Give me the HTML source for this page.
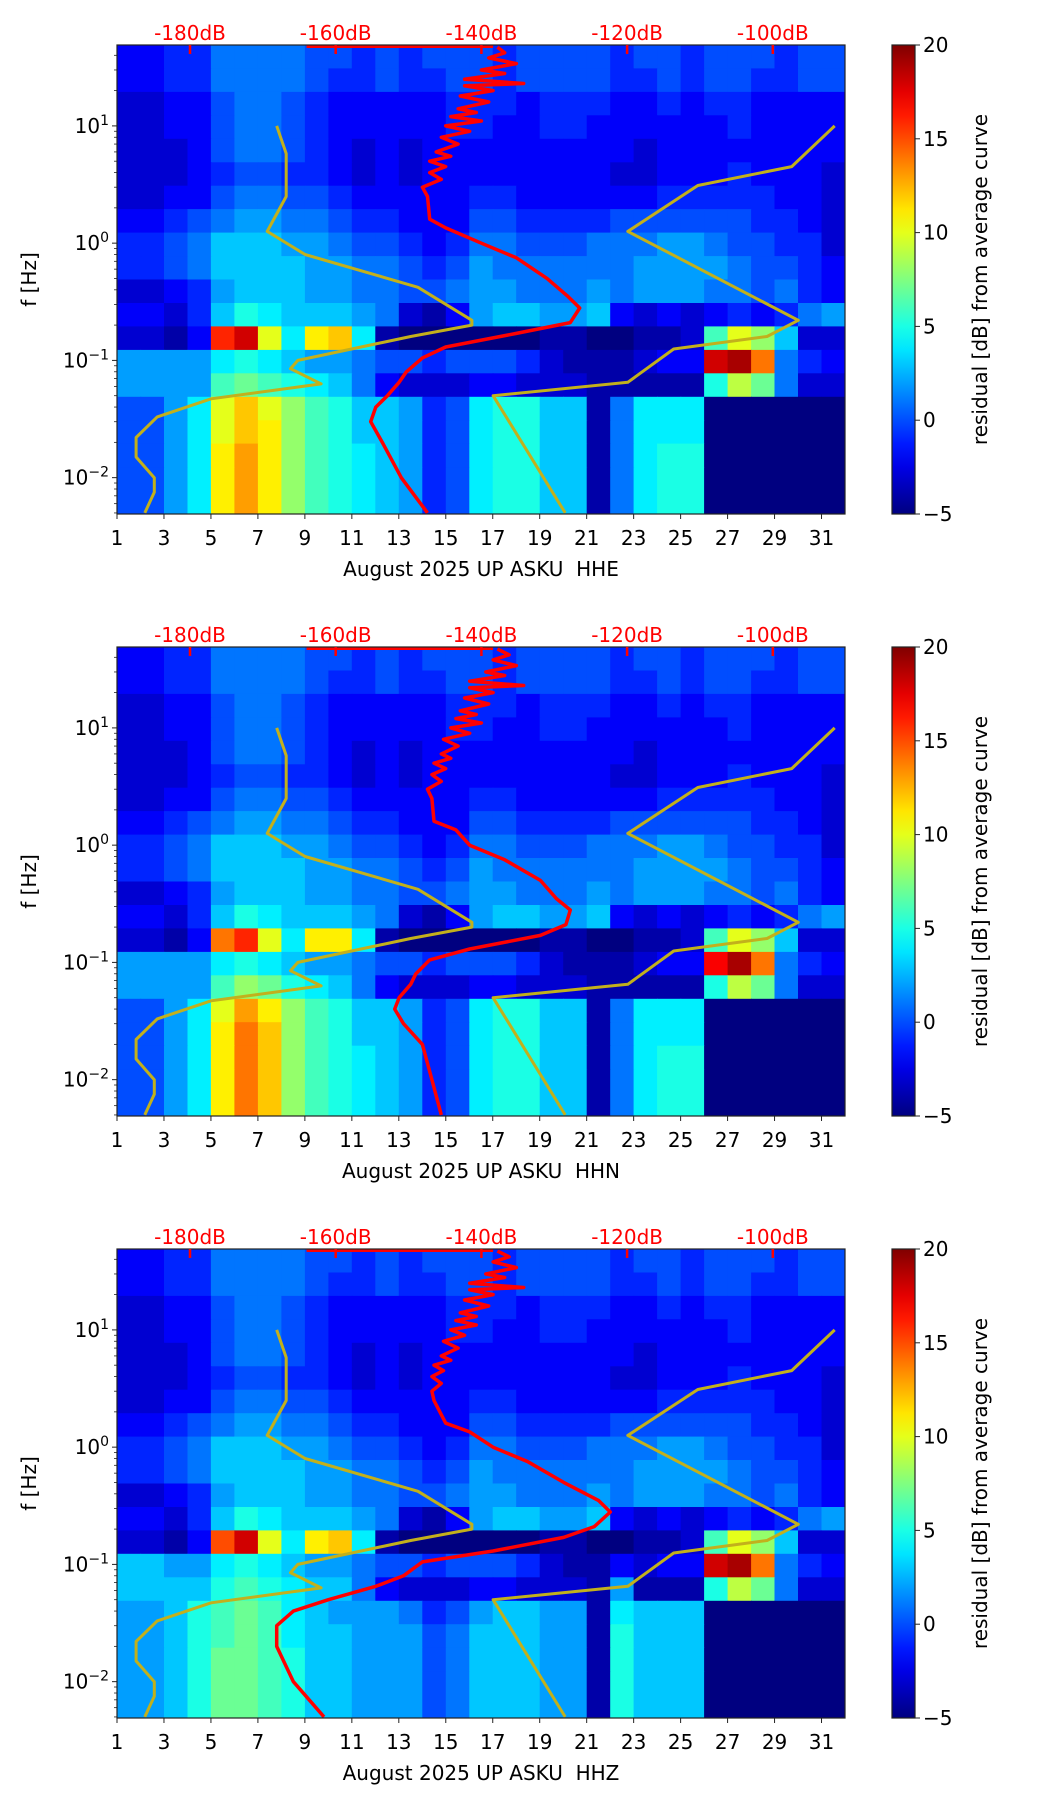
<!DOCTYPE html>
<html><head><meta charset="utf-8"><style>
body{margin:0;background:#fff;}
svg text{font-family:"DejaVu Sans","Liberation Sans",sans-serif;white-space:pre;}
</style></head><body>
<svg id="fig" width="1052" height="1806" viewBox="0 0 1052 1806" xmlns="http://www.w3.org/2000/svg"></svg>
<script>
// ---- data ----
const panelLabels = ["August 2025 UP ASKU\u00a0\u00a0HHE","August 2025 UP ASKU\u00a0\u00a0HHN","August 2025 UP ASKU\u00a0\u00a0HHZ"];
const dayTicks = [1,3,5,7,9,11,13,15,17,19,21,23,25,27,29,31];
const dbTicks = [-180,-160,-140,-120,-100];
const decadeTicks = [1,0,-1,-2];
const cbarTicks = [20,15,10,5,0,-5];
// frequency band edges (log10 Hz), top to bottom
const bandEdges = [1.69,1.49,1.29,1.09,0.89,0.69,0.49,0.29,0.09,-0.11,-0.31,-0.51,-0.71,-0.91,-1.11,-1.31,-1.51,-1.71,-1.91,-2.11,-2.31];
// upper bands (49 Hz .. 0.2 Hz), residual dB per day
const upperRows = [
[-2,-2,-1,-1,1,1,1,1,0,0,-1,0,-1,0,0,0,-1,0,0,0,0,-1,0,0,-1,0,0,0,-1,0,0],
[-2,-2,-1,-1,1,1,1,1,0,-1,-1,0,-1,-1,0,0,-1,0,0,0,0,-1,-1,0,-1,0,0,-1,-1,0,0],
[-3,-3,-2,-2,0,1,1,0,-1,-2,-2,-2,-2,-2,-1,-1,-1,-2,-1,-1,-1,-2,-2,-1,-2,-1,-1,-2,-2,-2,-2],
[-3,-3,-2,-2,0,1,1,0,-1,-2,-2,-2,-2,-2,-1,-1,-2,-2,-1,-1,-2,-2,-2,-2,-2,-2,-1,-2,-2,-2,-2],
[-3,-3,-3,-2,0,1,1,0,-1,-2,-3,-2,-3,-2,-2,-2,-2,-2,-2,-2,-2,-2,-3,-2,-2,-2,-2,-2,-2,-2,-2],
[-3,-3,-3,-2,-1,0,0,-1,-1,-2,-3,-2,-3,-2,-2,-2,-2,-2,-2,-2,-2,-3,-3,-2,-2,-2,-1,-2,-2,-2,-3],
[-3,-3,-2,-2,0,1,1,0,0,-1,-2,-2,-2,-2,-2,-1,-1,-2,-2,-2,-2,-2,-2,-1,-1,-1,-1,-1,-2,-2,-3],
[-2,-2,-1,0,1,2,2,1,1,0,-1,-1,-2,-2,-2,0,0,-1,-1,-1,-1,0,0,0,0,0,0,-1,-1,-2,-3],
[-1,-1,0,1,3,3,3,2,2,1,0,0,-1,-2,-1,1,1,0,0,0,1,1,1,2,2,1,0,0,-1,-1,-3],
[-1,-1,0,1,3,3,3,3,2,2,1,1,0,-1,0,2,1,1,1,1,1,1,2,2,2,2,1,0,0,-1,-2],
[-3,-3,-2,-1,2,3,3,3,2,2,1,1,0,0,1,2,2,1,1,1,2,1,2,2,2,1,1,0,1,-1,-2],
[-2,-2,-3,-1,3,5,4,3,3,3,2,1,-3,-4,-2,2,3,3,2,2,3,-2,-3,-2,-3,-2,-1,-2,-1,1,2]];
const lowerE = [
[-3,-3,-4,-2,16,18,10,4,11,12,4,-4,-5,-5,-5,-5,-5,-5,-4,-4,-5,-5,-4,-4,-3,6,10,8,3,-3,-3],
[2,2,2,2,4,5,4,3,2,2,1,0,0,-1,0,0,0,-1,-3,-4,-4,-4,-3,-2,-2,18,19,14,1,-1,-2],
[2,2,2,2,6,7,6,5,4,3,1,-2,-3,-3,-3,-2,-2,-3,-3,-3,-4,-4,-4,-4,-4,5,9,7,1,-3,-3],
[0,0,2,4,10,12,10,8,6,5,3,3,2,-1,0,4,5,5,3,3,-4,1,4,4,4,-5,-5,-5,-5,-5,-5],
[0,0,2,4,10,12,11,8,6,5,3,3,2,-1,0,4,5,5,3,3,-4,1,4,4,4,-5,-5,-5,-5,-5,-5],
[0,0,2,4,11,13,11,8,6,5,4,3,2,-1,0,4,5,5,3,3,-4,1,4,5,5,-5,-5,-5,-5,-5,-5],
[0,0,2,4,11,13,11,8,6,5,4,3,2,-1,0,4,5,5,3,3,-4,1,4,5,5,-5,-5,-5,-5,-5,-5],
[0,0,2,4,11,13,11,8,6,5,4,3,2,-1,0,4,5,5,3,3,-4,1,4,5,5,-5,-5,-5,-5,-5,-5]];
const lowerN = [
[-3,-3,-4,-2,14,16,10,4,11,11,4,-4,-5,-5,-5,-5,-5,-5,-4,-4,-5,-5,-4,-4,-3,6,10,8,3,-3,-3],
[2,2,2,2,4,5,4,3,2,2,1,0,0,-1,0,0,0,-1,-3,-4,-4,-4,-3,-2,-2,17,19,14,1,-1,-2],
[2,2,2,2,6,8,7,5,4,3,1,-2,-3,-3,-3,-2,-2,-3,-3,-3,-4,-4,-4,-4,-4,5,9,7,1,-3,-3],
[0,0,2,4,10,13,11,8,6,5,3,3,2,-1,0,4,5,5,3,3,-4,1,4,4,4,-5,-5,-5,-5,-5,-5],
[0,0,2,4,11,14,12,8,6,5,3,3,2,-1,0,4,5,5,3,3,-4,1,4,4,4,-5,-5,-5,-5,-5,-5],
[0,0,2,4,11,14,12,8,6,5,4,3,2,-1,0,4,5,5,3,3,-4,1,4,5,5,-5,-5,-5,-5,-5,-5],
[0,0,2,4,11,14,12,8,6,5,4,3,2,-1,0,4,5,5,3,3,-4,1,4,5,5,-5,-5,-5,-5,-5,-5],
[0,0,2,4,11,14,12,8,6,5,4,3,2,-1,0,4,5,5,3,3,-4,1,4,5,5,-5,-5,-5,-5,-5,-5]];
const lowerZ = [
[-3,-3,-4,-2,15,18,10,4,11,12,4,-4,-5,-5,-5,-5,-5,-5,-4,-4,-5,-5,-4,-4,-3,6,10,8,3,-3,-3],
[3,3,2,2,4,5,4,3,2,2,1,0,0,-1,0,0,0,-1,-3,-4,-4,-2,-3,-2,-2,18,19,14,1,-1,-2],
[3,3,3,3,5,6,5,4,3,3,1,-2,-3,-3,-3,-2,-2,-3,-3,-3,-4,2,-4,-4,-4,5,9,7,1,-3,-3],
[2,2,3,5,6,7,6,4,3,2,2,2,1,-1,0,2,3,3,2,2,-4,4,3,3,3,-5,-5,-5,-5,-5,-5],
[2,2,3,5,6,7,6,4,3,3,2,2,2,0,1,3,3,3,2,2,-4,5,3,3,3,-5,-5,-5,-5,-5,-5],
[2,2,3,5,7,7,6,5,3,3,2,2,2,0,1,3,3,3,2,2,-4,5,3,3,3,-5,-5,-5,-5,-5,-5],
[2,2,3,5,7,7,6,5,3,3,2,2,2,0,1,3,3,3,2,2,-4,5,3,3,3,-5,-5,-5,-5,-5,-5],
[2,2,3,5,7,7,6,5,3,3,2,2,2,0,1,3,3,3,2,2,-4,5,3,3,3,-5,-5,-5,-5,-5,-5]];
// noise models (frequency Hz, dB)
const nlnmF = [10,5.8,2.5,1.26,0.8,0.42,0.22,0.2,0.16,0.1,0.085,0.063,0.047,0.033,0.022,0.015,0.01,0.0075,0.005];
const nlnmDb = [-168.1,-166.8,-166.8,-169.4,-164.2,-148.7,-141.3,-141.3,-149.7,-165.2,-166.2,-162,-177.1,-184.5,-187.4,-187.4,-184.9,-184.9,-186.2];
const nhnmF = [10,4.5,3.1,1.26,0.22,0.16,0.125,0.065,0.05,0.005];
const nhnmDb = [-91.5,-97.4,-110.3,-119.9,-96.5,-100.8,-113.6,-119.9,-138.4,-128.5];
// median PSD curves (frequency Hz, dB)
const redF = [47,42,38,34,30,28,25,23,22,20,18,16,14,13,12,11,10,9,8,7,6,5.5,5,4.5,4,3.5,3,2.5,1.6,1.35,1.0,0.75,0.5,0.35,0.28,0.21,0.17,0.13,0.105,0.08,0.065,0.05,0.04,0.03,0.02,0.01,0.005];
const redDbE = [-137.8,-136.8,-139,-135.2,-140,-136.8,-142.3,-134.2,-142.3,-138.4,-142.9,-139,-143.2,-140.7,-144.2,-140,-144.9,-141.6,-145.5,-143.2,-146.2,-144.2,-147.1,-144.9,-147.1,-145.5,-148.1,-147.4,-147.1,-144.9,-140,-135.2,-131,-128.1,-126.5,-127.8,-135.2,-144.9,-148.1,-150.3,-151.3,-152.9,-154.5,-155.2,-153.6,-151,-147.4];
const redDbN = [-137.8,-136.2,-138.4,-135.2,-139.4,-136.8,-141.6,-134.2,-141.6,-138.4,-142.3,-139,-142.9,-140.7,-143.5,-140,-144.2,-141.6,-145.2,-143.2,-145.5,-144.2,-146.5,-144.9,-146.8,-145.5,-147.4,-146.8,-146.5,-143.5,-141.6,-136.8,-131.9,-129.7,-127.8,-128.4,-131.9,-141.6,-147.1,-149,-149.7,-151.3,-151.9,-150.7,-148.1,-146.8,-145.5];
const redDbZ = [-137.8,-136.2,-138.4,-135.2,-139.4,-136.8,-141.6,-134.2,-141.6,-138.4,-142.3,-139,-142.9,-140.7,-143.5,-140.7,-144.2,-142.3,-145.2,-143.2,-145.5,-144.2,-146.5,-145.2,-146.8,-145.5,-146.8,-146.5,-144.9,-141.6,-138.4,-133.6,-128.7,-123.9,-122.3,-124.5,-128.7,-138.4,-148.1,-150.7,-154.5,-161,-165.8,-168.1,-168.1,-165.8,-161.6];
const topLineDb = [-164,-138.4];

// ---- layout ----
const svg = document.getElementById('fig');
const NS = 'http://www.w3.org/2000/svg';
const AX_L = 117, AX_R = 845, AX_H = 469, CB_L = 892, CB_R = 915;
const panelTops = [45, 647, 1249];
const F_TOP = 1.69, F_BOT = -2.31, D_MIN = 1, D_MAX = 32;
const FS = 20;
function xDay(d){ return AX_L + (d - D_MIN) / (D_MAX - D_MIN) * (AX_R - AX_L); }
function xDb(db){ return 190 + (db + 180) / 20 * 145.7; }
function mk(tag, attrs, parent){ const e = document.createElementNS(NS, tag); for (const k in attrs) e.setAttribute(k, attrs[k]); (parent||svg).appendChild(e); return e; }
function jet(v){
  let t = Math.max(0, Math.min(1, (v + 5) / 25));
  const r = Math.max(0, Math.min(1, 1.5 - Math.abs(4*t - 3)));
  const g = Math.max(0, Math.min(1, 1.5 - Math.abs(4*t - 2)));
  const b = Math.max(0, Math.min(1, 1.5 - Math.abs(4*t - 1)));
  return `rgb(${Math.round(r*255)},${Math.round(g*255)},${Math.round(b*255)})`;
}
const grids = [upperRows.concat(lowerE), upperRows.concat(lowerN), upperRows.concat(lowerZ)];
const reds = [redDbE, redDbN, redDbZ];

panelTops.forEach((top, p) => {
  const bot = top + AX_H;
  const yF = lf => top + (F_TOP - lf) / (F_TOP - F_BOT) * AX_H;
  const g = mk('g', {}, svg);
  
  
  const clipId = 'clip' + p;
  const cp = mk('clipPath', {id: clipId}, g);
  mk('rect', {x: AX_L, y: top, width: AX_R - AX_L, height: AX_H}, cp);
  const hm = mk('g', {'clip-path': `url(#${clipId})`}, g);
  
  
  const grid = grids[p];
  grid.forEach((row, ri) => {
    row.forEach((v, ci) => {
      const x0 = xDay(D_MIN + ci), x1 = xDay(D_MIN + ci + 1);
      const y0 = yF(bandEdges[ri]), y1 = yF(bandEdges[ri + 1]);
      const c = mk('rect', {x: x0.toFixed(1), y: y0.toFixed(1), width: (x1 - x0 + 0.6).toFixed(1), height: (y1 - y0 + 0.6).toFixed(1), fill: jet(v)}, hm);
      
      
    });
  });
  const line = (fs, dbs, color, w, name) => {
    const pts = fs.map((f, i) => xDb(dbs[i]).toFixed(1) + ',' + yF(Math.log10(f)).toFixed(1)).join(' ');
    const l = mk('polyline', {points: pts, fill: 'none', stroke: color, 'stroke-width': w, 'stroke-linejoin': 'round'}, hm);
    
    
  };
  line(nlnmF, nlnmDb, '#c2b01c', 3, 'nlnm-curve');
  line(nhnmF, nhnmDb, '#c2b01c', 3, 'nhnm-curve');
  line(redF, reds[p], '#ff0000', 3.5, 'median-psd-curve');
  const tl = mk('line', {x1: xDb(topLineDb[0]), x2: xDb(topLineDb[1]), y1: top + 1.5, y2: top + 1.5, stroke: '#ff0000', 'stroke-width': 3}, hm);
  
  
  const fr = mk('rect', {x: AX_L, y: top, width: AX_R - AX_L, height: AX_H, fill: 'none', stroke: '#222', 'stroke-width': 1.2}, g);
  
  
  dayTicks.forEach(d => {
    const x = xDay(d);
    mk('line', {x1: x, x2: x, y1: bot, y2: bot + 5, stroke: '#222', 'stroke-width': 1}, g);
    const t = mk('text', {x: x, y: bot + 31, 'font-size': FS, 'text-anchor': 'middle', fill: '#000'}, g);
    t.textContent = d;
    
    
  });
  const xl = mk('text', {x: (AX_L + AX_R) / 2, y: bot + 62, 'font-size': FS, 'text-anchor': 'middle', fill: '#000'}, g);
  xl.textContent = panelLabels[p];
  
  
  decadeTicks.forEach(e => {
    const y = yF(e);
    mk('line', {x1: AX_L - 5, x2: AX_L, y1: y, y2: y, stroke: '#222', 'stroke-width': 1}, g);
    const t = mk('text', {x: AX_L - 8, y: y + 7, 'font-size': FS, 'text-anchor': 'end', fill: '#000'}, g);
    
    
    const s1 = mk('tspan', {}, t); s1.textContent = '10';
    const s2 = mk('tspan', {dy: -8, 'font-size': 14}, t); s2.textContent = e < 0 ? '\u2212' + (-e) : String(e);
    for (let m = 2; m <= 9; m++) {
      const lf = e + Math.log10(m);
      if (lf <= F_TOP) { const ym = yF(lf); mk('line', {x1: AX_L - 3, x2: AX_L, y1: ym, y2: ym, stroke: '#222', 'stroke-width': 0.8}, g); }
      const lf2 = e - 1 + Math.log10(m);
      if (e === -2 && lf2 >= F_BOT) { const ym = yF(lf2); mk('line', {x1: AX_L - 3, x2: AX_L, y1: ym, y2: ym, stroke: '#222', 'stroke-width': 0.8}, g); }
    }
  });
  const yl = mk('text', {x: 36, y: top + AX_H / 2, 'font-size': FS, 'text-anchor': 'middle', fill: '#000', transform: `rotate(-90 36 ${top + AX_H / 2})`}, g);
  yl.textContent = 'f [Hz]';
  
  
  dbTicks.forEach(db => {
    const x = xDb(db);
    const t = mk('text', {x: x, y: top - 5, 'font-size': FS, 'text-anchor': 'middle', fill: '#ff0000'}, g);
    t.textContent = db + 'dB';
    
    
    mk('line', {x1: x, x2: x, y1: top, y2: top + 9, stroke: '#ff0000', 'stroke-width': 2.5}, g);
  });
  const defs = mk('defs', {}, g);
  const grad = mk('linearGradient', {id: 'cb' + p, x1: 0, y1: 1, x2: 0, y2: 0}, defs);
  for (let i = 0; i <= 20; i++) { mk('stop', {offset: (i / 20), 'stop-color': jet(-5 + 25 * i / 20)}, grad); }
  const cb = mk('rect', {x: CB_L, y: top, width: CB_R - CB_L, height: AX_H, fill: `url(#cb${p})`, stroke: '#222', 'stroke-width': 1.2}, g);
  
  
  cbarTicks.forEach(v => {
    const y = bot - (v + 5) / 25 * AX_H;
    mk('line', {x1: CB_R, x2: CB_R + 5, y1: y, y2: y, stroke: '#222', 'stroke-width': 1}, g);
    const t = mk('text', {x: CB_R + 8, y: y + 7, 'font-size': FS, fill: '#000'}, g);
    t.textContent = v < 0 ? '\u2212' + (-v) : String(v);
    
    
  });
  const cl = mk('text', {x: 987, y: top + AX_H / 2, 'font-size': FS, 'text-anchor': 'middle', fill: '#000', transform: `rotate(-90 987 ${top + AX_H / 2})`}, g);
  cl.textContent = 'residual [dB] from average curve';
  
  
});
</script>
</body></html>
